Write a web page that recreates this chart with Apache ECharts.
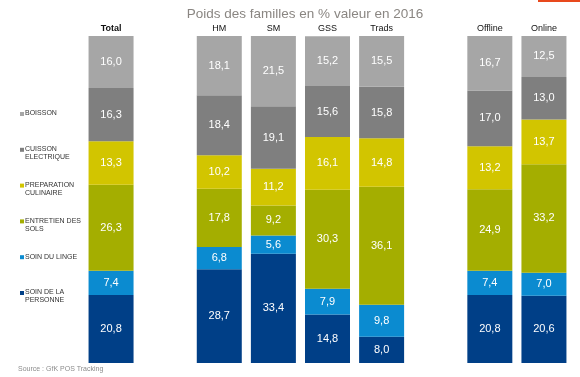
<!DOCTYPE html>
<html><head><meta charset="utf-8">
<script src="https://cdn.jsdelivr.net/npm/echarts@6/dist/echarts.min.js"></script>
<style>html,body{margin:0;padding:0;background:#fff}#c{width:580px;height:377px}</style>
</head><body><div id="c"></div>
<script>
var groups = ['Total', '', 'HM', 'SM', 'GSS', 'Trads', '', 'Offline', 'Online'];
var families = ['SOIN DE LA PERSONNE', 'SOIN DU LINGE', 'ENTRETIEN DES SOLS', 'PREPARATION CULINAIRE', 'CUISSON ELECTRIQUE', 'BOISSON'];
var legendLines = [['SOIN DE LA', 'PERSONNE'], ['SOIN DU LINGE'], ['ENTRETIEN DES', 'SOLS'], ['PREPARATION', 'CULINAIRE'], ['CUISSON', 'ELECTRIQUE'], ['BOISSON']];
// values per group (blank groups = null)
var soinPersonne = [20.8, null, 28.7, 33.4, 14.8, 8.0, null, 20.8, 20.6];
var soinLinge    = [7.4, null, 6.8, 5.6, 7.9, 9.8, null, 7.4, 7.0];
var entretien    = [26.3, null, 17.8, 9.2, 30.3, 36.1, null, 24.9, 33.2];
var preparation  = [13.3, null, 10.2, 11.2, 16.1, 14.8, null, 13.2, 13.7];
var cuisson      = [16.3, null, 18.4, 19.1, 15.6, 15.8, null, 17.0, 13.0];
var boisson      = [16.0, null, 18.1, 21.5, 15.2, 15.5, null, 16.7, 12.5];
var values = [soinPersonne, soinLinge, entretien, preparation, cuisson, boisson];
var colors = ['#003f87', '#0b8bd0', '#a4ae00', '#d2c500', '#7f7f7f', '#a6a6a6'];

var chart = echarts.init(document.getElementById('c'));
var FONT = '"Liberation Sans", Arial, sans-serif';
var series = families.map(function (name, i) {
  return {
    name: name, type: 'bar', stack: 'all', barWidth: 45,
    itemStyle: { color: colors[i] },
    data: values[i].map(function (v) { return v === null ? '-' : v; }),
    label: {
      show: true, position: 'inside', color: '#ffffff', fontSize: 11, fontFamily: FONT,
      formatter: function (p) { return Number(p.value).toFixed(1).replace('.', ','); }
    }
  };
});

var graphics = [
  { type: 'rect', shape: { x: 538, y: 0, width: 42, height: 2 }, style: { fill: '#e8491d' } },
  { type: 'text', left: 18, top: 366, style: { text: 'Source : GfK POS Tracking', fill: '#8c8c8c', font: '7px ' + FONT } }
];
var legendTop = 114;
for (var k = 0; k < families.length; k++) {
  var idx = families.length - 1 - k;
  var y = legendTop + k * 35.8;
  graphics.push({ type: 'rect', shape: { x: 20, y: y - 2, width: 4, height: 4 }, style: { fill: colors[idx] } });
  graphics.push({ type: 'text', x: 25, y: y - 4.5, style: { text: legendLines[idx].join('\n'), fill: '#333333', font: '7px ' + FONT, lineHeight: 8 } });
}

chart.setOption({
  animation: false,
  title: { text: 'Poids des familles en % valeur en 2016', left: 300, textAlign: 'center', top: 2,
    textStyle: { color: '#8a8682', fontSize: 13.5, fontWeight: 'normal', fontFamily: FONT } },
  grid: { left: 84, right: 9, top: 36, bottom: 14 },
  xAxis: { type: 'category', position: 'top', data: groups,
    axisLine: { show: false }, axisTick: { show: false },
    axisLabel: { margin: 3, fontSize: 9, color: '#111', fontFamily: FONT,
      formatter: function (v) { return v === 'Total' ? '{b|' + v + '}' : v; },
      rich: { b: { fontWeight: 'bold', fontSize: 9, color: '#111', fontFamily: FONT } } } },
  yAxis: { type: 'value', min: 0, max: 100, show: false },
  series: series,
  graphic: graphics
});
</script></body></html>
